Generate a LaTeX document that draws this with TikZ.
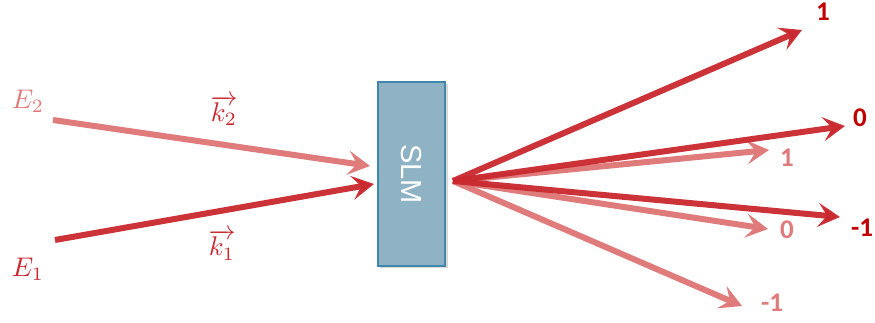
\documentclass[tikz,border=0pt]{standalone}
\usepackage{fontspec}
\setsansfont{Liberation Sans}
\newfontfamily\lblfont{Carlito}
\usetikzlibrary{arrows.meta}
\definecolor{darkred}{HTML}{C8282E}
\definecolor{lightred}{HTML}{E07B7B}
\definecolor{lbldark}{HTML}{C00000}
\definecolor{slmfill}{HTML}{8FB3C5}
\definecolor{slmdraw}{HTML}{3F87AB}
\begin{document}
\begin{tikzpicture}[x=1pt,y=1pt,
  beam/.style={line width=6pt,-{Stealth[length=22pt,width=24pt,inset=9pt]}},
  darkbeam/.style={beam,draw=darkred,opacity=0.95},
  lightbeam/.style={beam,draw=lightred},
  orderd/.style={font=\lblfont\bfseries\fontsize{27}{30}\selectfont,text=lbldark},
  orderl/.style={font=\lblfont\bfseries\fontsize{27}{30}\selectfont,text=lightred},
  field/.style={scale=2.7}]
\useasboundingbox (0,0) rectangle (875,323);
% SLM
\fill[black!15] (380,55) rectangle (448,239);
\node[draw=slmdraw,fill=slmfill,line width=1.2pt,minimum width=67pt,minimum height=184pt,inner sep=0pt] (slm) at (411.5,149) {};
\node[rotate=-90,text=white,font=\sffamily\fontsize{29}{32}\selectfont] (slmtext) at (slm.center) {SLM};
% input beams
\coordinate (e2s) at (53,203);
\coordinate (e2e) at (370,157);
\coordinate (e1s) at (55,83);
\coordinate (e1e) at (374,139);
\draw[lightbeam] (e2s) -- (e2e);
\draw[darkbeam] (e1s) -- (e1e);
\node[field,text=lightred] (E2) at (28,222) {$E_2$};
\node[field,text=darkred] (E1) at (28,54) {$E_1$};
\node[field,text=darkred] (k2) at (224,212) {$\overrightarrow{k_2}$};
\node[field,text=darkred] (k1) at (222,78) {$\overrightarrow{k_1}$};
% output beams
\coordinate (o) at (453,142);
\coordinate (l1) at (769,173);
\coordinate (l0) at (768,94);
\coordinate (lm) at (742,17);
\coordinate (d1) at (802,293);
\coordinate (d0) at (845,197);
\coordinate (dm) at (840,106);
\draw[lightbeam] (o) -- (l1);
\draw[lightbeam] (o) -- (l0);
\draw[lightbeam] (o) -- (lm);
\draw[darkbeam] (o) -- (d1);
\draw[darkbeam] (o) -- (d0);
\draw[darkbeam] (o) -- (dm);
\node[orderl] (tl1) at (787,165) {1};
\node[orderl] (tl0) at (787,93) {0};
\node[orderl] (tlm) at (772,20) {-1};
\node[orderd] (td1) at (823,311) {1};
\node[orderd] (td0) at (860,205) {0};
\node[orderd] (tdm) at (862,95) {-1};
\end{tikzpicture}
\end{document}
